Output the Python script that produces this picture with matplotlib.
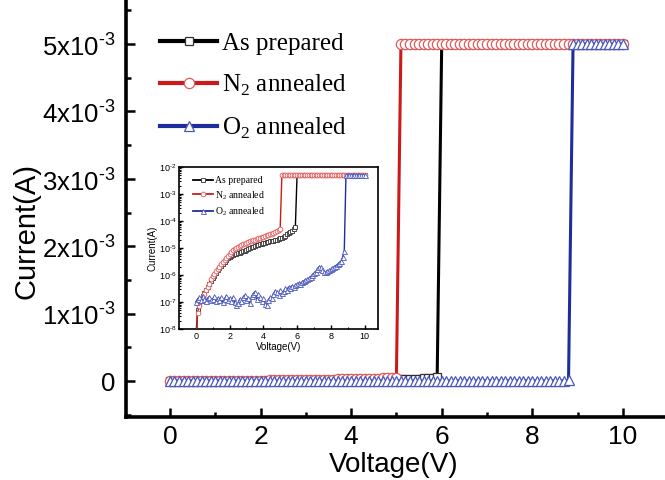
import matplotlib
matplotlib.use('Agg')
import matplotlib.pyplot as plt
from matplotlib.ticker import MultipleLocator, LogLocator, NullFormatter, FixedLocator

# ---------------- data ----------------
voltage = [
    0.0, 0.1, 0.2, 0.3, 0.4, 0.5, 0.6, 0.7, 0.8, 0.9,
    1.0, 1.1, 1.2, 1.3, 1.4, 1.5, 1.6, 1.7, 1.8, 1.9,
    2.0, 2.1, 2.2, 2.3, 2.4, 2.5, 2.6, 2.7, 2.8, 2.9,
    3.0, 3.1, 3.2, 3.3, 3.4, 3.5, 3.6, 3.7, 3.8, 3.9,
    4.0, 4.1, 4.2, 4.3, 4.4, 4.5, 4.6, 4.7, 4.8, 4.9,
    5.0, 5.1, 5.2, 5.3, 5.4, 5.5, 5.6, 5.7, 5.8, 5.9,
    6.0, 6.1, 6.2, 6.3, 6.4, 6.5, 6.6, 6.7, 6.8, 6.9,
    7.0, 7.1, 7.2, 7.3, 7.4, 7.5, 7.6, 7.7, 7.8, 7.9,
    8.0, 8.1, 8.2, 8.3, 8.4, 8.5, 8.6, 8.7, 8.8, 8.9,
    9.0, 9.1, 9.2, 9.3, 9.4, 9.5, 9.6, 9.7, 9.8, 9.9,
    10.0,
]

as_prepared = [
    2e-9, 5e-8, 8e-8, 1.2e-7, 1.6e-7, 2.1e-7, 2.8e-7, 3.6e-7, 4.6e-7, 6.0e-7,
    7.6e-7, 9.5e-7, 1.2e-6, 1.5e-6, 1.8e-6, 2.2e-6, 2.6e-6, 3.1e-6, 3.6e-6, 4.1e-6,
    4.6e-6, 5.0e-6, 5.4e-6, 5.8e-6, 6.1e-6, 6.4e-6, 6.6e-6, 7.0e-6, 7.5e-6, 8.0e-6,
    8.6e-6, 9.2e-6, 9.8e-6, 1.05e-5, 1.1e-5, 1.18e-5, 1.25e-5, 1.3e-5, 1.38e-5, 1.45e-5,
    1.5e-5, 1.55e-5, 1.62e-5, 1.7e-5, 1.75e-5, 1.8e-5, 1.85e-5, 1.95e-5, 2.05e-5, 2.15e-5,
    2.25e-5, 2.4e-5, 2.6e-5, 2.9e-5, 3.2e-5, 3.5e-5, 3.8e-5, 4.2e-5, 4.9e-5, 6.0e-5,
    5e-3, 5e-3, 5e-3, 5e-3, 5e-3, 5e-3, 5e-3, 5e-3, 5e-3, 5e-3,
    5e-3, 5e-3, 5e-3, 5e-3, 5e-3, 5e-3, 5e-3, 5e-3, 5e-3, 5e-3,
    5e-3, 5e-3, 5e-3, 5e-3, 5e-3, 5e-3, 5e-3, 5e-3, 5e-3, 5e-3,
    5e-3, 5e-3, 5e-3, 5e-3, 5e-3, 5e-3, 5e-3, 5e-3, 5e-3, 5e-3,
    5e-3,
]

n2_annealed = [
    3e-9, 4e-8, 7e-8, 1.1e-7, 1.5e-7, 2.0e-7, 2.7e-7, 3.6e-7, 4.8e-7, 7.0e-7,
    9.0e-7, 1.1e-6, 1.35e-6, 1.65e-6, 2.0e-6, 2.5e-6, 3.0e-6, 3.6e-6, 4.3e-6, 5.2e-6,
    6.2e-6, 7.3e-6, 8.3e-6, 9.3e-6, 1.0e-5, 1.1e-5, 1.2e-5, 1.3e-5, 1.38e-5, 1.45e-5,
    1.55e-5, 1.65e-5, 1.75e-5, 1.85e-5, 1.95e-5, 2.05e-5, 2.15e-5, 2.25e-5, 2.35e-5, 2.5e-5,
    2.65e-5, 2.8e-5, 2.95e-5, 3.1e-5, 3.25e-5, 3.4e-5, 3.6e-5, 3.8e-5, 4.1e-5, 4.5e-5,
    5.2e-5, 5e-3, 5e-3, 5e-3, 5e-3, 5e-3, 5e-3, 5e-3, 5e-3, 5e-3,
    5e-3, 5e-3, 5e-3, 5e-3, 5e-3, 5e-3, 5e-3, 5e-3, 5e-3, 5e-3,
    5e-3, 5e-3, 5e-3, 5e-3, 5e-3, 5e-3, 5e-3, 5e-3, 5e-3, 5e-3,
    5e-3, 5e-3, 5e-3, 5e-3, 5e-3, 5e-3, 5e-3, 5e-3, 5e-3, 5e-3,
    5e-3, 5e-3, 5e-3, 5e-3, 5e-3, 5e-3, 5e-3, 5e-3, 5e-3, 5e-3,
    5e-3,
]

o2_annealed = [
    1.0e-7, 1.3e-7, 1.5e-7, 1.2e-7, 1.6e-7, 1.3e-7, 1.1e-7, 1.4e-7, 1.5e-7, 1.2e-7,
    1.3e-7, 1.6e-7, 1.1e-7, 1.4e-7, 1.2e-7, 1.5e-7, 1.0e-7, 1.3e-7, 1.7e-7, 1.2e-7,
    1.4e-7, 1.1e-7, 1.5e-7, 1.0e-7, 7.5e-8, 9.0e-8, 1.3e-7, 1.1e-7, 1.5e-7, 1.8e-7,
    1.2e-7, 1.4e-7, 9.0e-8, 1.6e-7, 2.0e-7, 2.4e-7, 1.3e-7, 1.9e-7, 1.5e-7, 1.1e-7,
    1.4e-7, 8.5e-8, 8.0e-8, 1.2e-7, 1.5e-7, 1.4e-7, 2.0e-7, 2.6e-7, 2.3e-7, 1.8e-7,
    2.8e-7, 2.2e-7, 2.5e-7, 3.2e-7, 2.9e-7, 3.6e-7, 3.4e-7, 4.0e-7, 3.5e-7, 4.3e-7,
    4.6e-7, 5.0e-7, 4.8e-7, 5.5e-7, 6.0e-7, 6.4e-7, 7.0e-7, 7.6e-7, 8.5e-7, 1.0e-6,
    1.15e-6, 1.3e-6, 1.6e-6, 2.0e-6, 1.9e-6, 1.5e-6, 1.3e-6, 1.25e-6, 1.4e-6, 1.5e-6,
    1.6e-6, 1.8e-6, 2.0e-6, 2.2e-6, 2.5e-6, 2.8e-6, 3.2e-6, 4.5e-6, 8.0e-6, 5e-3,
    5e-3, 5e-3, 5e-3, 5e-3, 5e-3, 5e-3, 5e-3, 5e-3, 5e-3, 5e-3,
    5e-3,
]

series_labels = ['As prepared', 'N$_\\mathregular{2}$ annealed', 'O$_\\mathregular{2}$ annealed']
x_ticks = [0, 2, 4, 6, 8, 10]
x_tick_labels = ['0', '2', '4', '6', '8', '10']
y_ticks = [0, 1e-3, 2e-3, 3e-3, 4e-3, 5e-3]
y_tick_labels = ['0', '1x10$^{\\mathregular{\u20103}}$', '2x10$^{\\mathregular{\u20103}}$',
                 '3x10$^{\\mathregular{\u20103}}$', '4x10$^{\\mathregular{\u20103}}$',
                 '5x10$^{\\mathregular{\u20103}}$']
inset_y_ticks = [1e-8, 1e-7, 1e-6, 1e-5, 1e-4, 1e-3, 1e-2]
inset_y_tick_labels = ['10$^{\\mathregular{\u20108}}$', '10$^{\\mathregular{\u20107}}$',
                       '10$^{\\mathregular{\u20106}}$', '10$^{\\mathregular{\u20105}}$',
                       '10$^{\\mathregular{\u20104}}$', '10$^{\\mathregular{\u20103}}$',
                       '10$^{\\mathregular{\u20102}}$']

# ---------------- style ----------------
sans = 'Liberation Sans'
serif = 'Liberation Serif'
plt.rcParams['font.family'] = [sans, 'DejaVu Sans']
plt.rcParams['mathtext.fontset'] = 'custom'
plt.rcParams['mathtext.rm'] = sans

line_colors = ['#000000', '#cc1a1a', '#1f2d9c']
edge_colors = ['#303030', '#e05a5a', '#4a58bc']
markers = ['s', 'o', '^']
main_ms = [6.0, 7.4, 7.8]
inset_ms = [3.0, 3.4, 3.6]
series = [as_prepared, n2_annealed, o2_annealed]

fig = plt.figure(figsize=(6.65, 4.8), dpi=100)

# main axes
ax = fig.add_axes([126 / 665, 1 - 417 / 480, 1 - 126 / 665, 417 / 480])
handles = []
for i, ys in enumerate(series):
    h, = ax.plot(voltage, ys, color=line_colors[i], lw=2.2, marker=markers[i],
                 ms=main_ms[i], mfc='white', mec=edge_colors[i], mew=0.9,
                 label=series_labels[i], zorder=3 + i)
    handles.append(h)

ax.set_xlim(-0.97, 10.93)
ax.set_ylim(-0.534e-3, 5.653e-3)
ax.set_xticks(x_ticks)
ax.set_xticklabels(x_tick_labels)
ax.set_yticks(y_ticks)
ax.set_yticklabels(y_tick_labels)
ax.xaxis.set_minor_locator(MultipleLocator(1))
ax.yaxis.set_minor_locator(MultipleLocator(0.5e-3))
ax.tick_params(which='both', direction='in', top=False, right=False)
ax.tick_params(which='major', length=6.5, width=1.8)
ax.tick_params(axis='y', which='major', pad=8, labelsize=18.5)
ax.tick_params(axis='x', which='major', pad=6, labelsize=19)
ax.tick_params(which='minor', length=3.6, width=1.8)
for s in ['top', 'right']:
    ax.spines[s].set_visible(False)
for s in ['left', 'bottom']:
    ax.spines[s].set_linewidth(2.6)
ax.set_xlabel('Voltage(V)', fontsize=20)
ax.xaxis.label.set_va('center')
ax.xaxis.set_label_coords((394 - 126) / 539, (417 - 465) / 417)
ax.set_ylabel('Current(A)', fontsize=21)
ax.yaxis.label.set_va('center')
ax.yaxis.set_label_coords((26 - 126) / 539, (417 - 231) / 417)

leg = ax.legend(handles=handles, loc='upper left', bbox_to_anchor=(0.063, 0.922),
                frameon=False, borderpad=0, borderaxespad=0, handlelength=2.3,
                handletextpad=0.2, labelspacing=0.72,
                prop={'family': serif, 'size': 18})
for lh in leg.get_lines():
    lh.set_linewidth(3.0)

# inset axes
axi = fig.add_axes([179 / 665, 1 - 329 / 480, (378 - 179) / 665, (329 - 167) / 480])
ihandles = []
for i, ys in enumerate(series):
    h, = axi.plot(voltage, ys, color=line_colors[i], lw=1.0, marker=markers[i],
                  ms=inset_ms[i], mfc='white', mec=edge_colors[i], mew=0.6,
                  label=series_labels[i], zorder=3 + i)
    ihandles.append(h)
axi.set_yscale('log')
axi.set_xlim(-1.0, 10.8)
axi.set_ylim(1e-8, 1e-2)
axi.set_xticks(x_ticks)
axi.set_xticklabels(x_tick_labels)
axi.yaxis.set_major_locator(FixedLocator(inset_y_ticks))
axi.set_yticklabels(inset_y_tick_labels)
axi.yaxis.set_minor_locator(LogLocator(base=10, subs=(2, 3, 4, 5, 6, 7, 8, 9), numticks=20))
axi.yaxis.set_minor_formatter(NullFormatter())
axi.xaxis.set_minor_locator(MultipleLocator(1))
axi.tick_params(which='both', direction='in', top=False, right=False)
axi.tick_params(which='major', length=3, width=1.0, labelsize=6.5, pad=2)
axi.tick_params(which='minor', length=1.6, width=0.8)
for s in axi.spines.values():
    s.set_linewidth(1.2)
axi.set_xlabel('Voltage(V)', fontsize=7, labelpad=1)
axi.set_ylabel('Current(A)', fontsize=7, labelpad=1)
ileg = axi.legend(handles=ihandles, loc='upper left', bbox_to_anchor=(0.07, 0.945),
                  frameon=False, borderpad=0, borderaxespad=0, handlelength=2.1,
                  handletextpad=0.2, labelspacing=0.4,
                  prop={'family': serif, 'size': 7})
for lh in ileg.get_lines():
    lh.set_linewidth(1.3)

fig.savefig('out.png', dpi=100)
